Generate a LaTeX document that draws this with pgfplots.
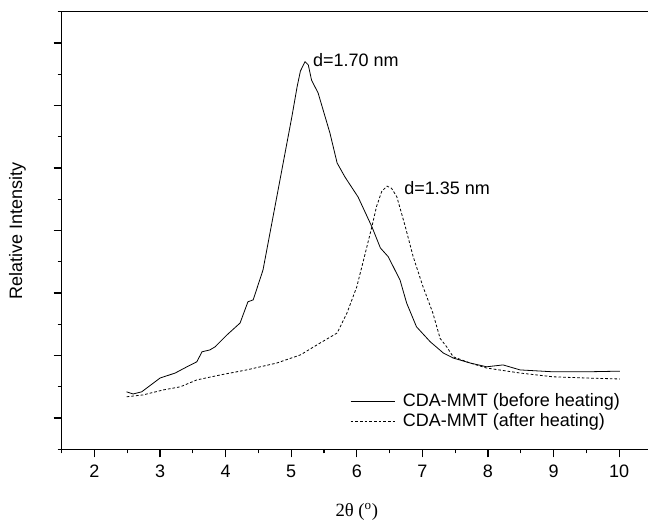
\documentclass[border=0pt]{standalone}
\usepackage{fontspec}
\setmainfont{Liberation Sans}
\newfontfamily\seriffont{Liberation Serif}
\usepackage{pgfplots}
\pgfplotsset{compat=1.18}
\begin{document}
\fontsize{13.5}{16}\selectfont
\begin{tikzpicture}
\begin{axis}[
  at={(46.275pt,-336.975pt)}, anchor=south west,
  scale only axis, width=442.65pt, height=328.2pt,
  xmin=1.5, xmax=10.5, ymin=0, ymax=14,
  xtick={2,3,...,10}, minor xtick={1.5,2.5,...,10.5},
  ytick={1,3,...,13}, minor ytick={0,2,...,14},
  yticklabels={},
  xtick pos=bottom, ytick pos=left,
  tick align=outside,
  major tick length=6pt, minor tick length=3pt,
  every tick/.style={black, line width=0.9pt},
  axis line style={line width=1.1pt},
  /pgf/number format/assume math mode=true,
  ticklabel style={font=\fontsize{13.5}{16}\selectfont},
  xticklabel style={yshift=-1pt},
  xlabel={{\seriffont\fontsize{14}{16}\selectfont 2θ (\textsuperscript{o})}},
  xlabel style={at={(axis description cs:0.5,-0.142)}, anchor=center},
  ylabel={Relative Intensity},
  ylabel style={at={(axis description cs:-0.075,0.5)}, anchor=center, font=\fontsize{13.5}{16}\selectfont},
  legend cell align=left,
  legend style={draw=none, fill=none, at={(axis description cs:0.486,0.138)}, anchor=north west, row sep=-0.5pt, font=\fontsize{13.5}{16}\selectfont, inner sep=1pt},
  legend image code/.code={\draw[#1] (0pt,0pt) -- (33pt,0pt); \path (37pt,0pt);},
]
\addplot[black, line width=0.6pt] coordinates {
(2.49,1.84) (2.59,1.77) (2.72,1.84) (3.00,2.28) (3.23,2.44) (3.41,2.64) (3.56,2.80)
(3.64,3.12) (3.76,3.18) (3.84,3.28) (4.02,3.66) (4.22,4.04) (4.34,4.72) (4.42,4.78)
(4.57,5.74) (4.80,8.30) (5.01,10.64) (5.09,11.60) (5.14,12.10) (5.21,12.40) (5.26,12.30)
(5.31,11.81) (5.41,11.40) (5.59,10.12) (5.70,9.16) (5.82,8.71) (6.02,8.07) (6.23,7.12)
(6.36,6.44) (6.48,6.16) (6.66,5.41) (6.76,4.68) (6.91,3.92) (7.12,3.44) (7.32,3.08)
(7.47,2.92) (7.73,2.76) (7.98,2.64) (8.23,2.70) (8.49,2.54) (8.99,2.48) (9.51,2.48) (10.01,2.50)
};
\addlegendentry{CDA-MMT (before heating)}
\addplot[black, line width=0.6pt, dash pattern=on 2pt off 1.5pt] coordinates {
(2.49,1.68) (2.74,1.74) (3.05,1.90) (3.31,2.00) (3.56,2.22) (3.92,2.38) (4.32,2.54)
(4.78,2.76) (5.14,3.02) (5.44,3.40) (5.70,3.72) (5.85,4.36) (6.00,5.20) (6.13,6.28)
(6.23,7.12) (6.30,7.76) (6.38,8.25) (6.46,8.42) (6.53,8.35) (6.61,8.08) (6.74,7.12) (6.86,6.16)
(7.01,5.20) (7.16,4.36) (7.27,3.55) (7.37,3.28) (7.47,2.96) (7.73,2.76) (7.98,2.60)
(8.49,2.44) (8.99,2.32) (9.51,2.28) (10.01,2.25)
};
\addlegendentry{CDA-MMT (after heating)}
\node[anchor=west, inner sep=0pt] at (axis cs:5.33,12.45) {d=1.70 nm};
\node[anchor=west, inner sep=0pt] at (axis cs:6.72,8.36) {d=1.35 nm};
\end{axis}
\pgfresetboundingbox
\path[use as bounding box] (0pt,0pt) rectangle (486pt,-390.75pt);
\end{tikzpicture}
\end{document}
